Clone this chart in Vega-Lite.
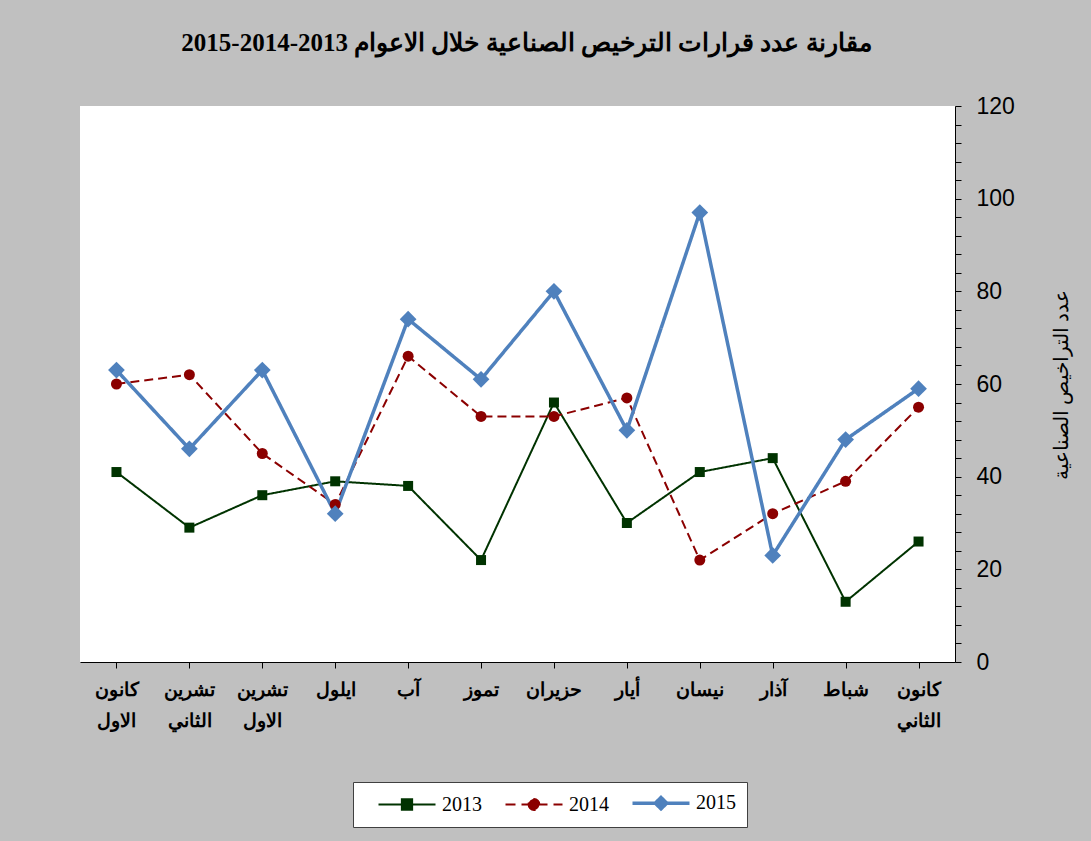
{
  "$schema": "https://vega.github.io/schema/vega-lite/v6.json",
  "width": 875,
  "height": 556,
  "autosize": {"type": "none"},
  "padding": {"left": 80, "top": 106, "right": 136, "bottom": 179},
  "background": "#c0c0c0",
  "config": {"view": {"fill": "white", "stroke": null}},
  "title": {
    "text": "مقارنة عدد قرارات الترخيص الصناعية خلال الاعوام 2013-2014-2015",
    "font": "Liberation Serif",
    "fontSize": 25,
    "fontWeight": "bold",
    "color": "black",
    "anchor": "middle",
    "frame": "group",
    "offset": 39,
    "dx": 9
  },
  "data": {
    "values": [
      {"month": "كانون الاول", "year": "2013", "value": 41},
      {"month": "تشرين الثاني", "year": "2013", "value": 29},
      {"month": "تشرين الاول", "year": "2013", "value": 36},
      {"month": "ايلول", "year": "2013", "value": 39},
      {"month": "آب", "year": "2013", "value": 38},
      {"month": "تموز", "year": "2013", "value": 22},
      {"month": "حزيران", "year": "2013", "value": 56},
      {"month": "أيار", "year": "2013", "value": 30},
      {"month": "نيسان", "year": "2013", "value": 41},
      {"month": "آذار", "year": "2013", "value": 44},
      {"month": "شباط", "year": "2013", "value": 13},
      {"month": "كانون الثاني", "year": "2013", "value": 26},
      {"month": "كانون الاول", "year": "2014", "value": 60},
      {"month": "تشرين الثاني", "year": "2014", "value": 62},
      {"month": "تشرين الاول", "year": "2014", "value": 45},
      {"month": "ايلول", "year": "2014", "value": 34},
      {"month": "آب", "year": "2014", "value": 66},
      {"month": "تموز", "year": "2014", "value": 53},
      {"month": "حزيران", "year": "2014", "value": 53},
      {"month": "أيار", "year": "2014", "value": 57},
      {"month": "نيسان", "year": "2014", "value": 22},
      {"month": "آذار", "year": "2014", "value": 32},
      {"month": "شباط", "year": "2014", "value": 39},
      {"month": "كانون الثاني", "year": "2014", "value": 55},
      {"month": "كانون الاول", "year": "2015", "value": 63},
      {"month": "تشرين الثاني", "year": "2015", "value": 46},
      {"month": "تشرين الاول", "year": "2015", "value": 63},
      {"month": "ايلول", "year": "2015", "value": 32},
      {"month": "آب", "year": "2015", "value": 74},
      {"month": "تموز", "year": "2015", "value": 61},
      {"month": "حزيران", "year": "2015", "value": 80},
      {"month": "أيار", "year": "2015", "value": 50},
      {"month": "نيسان", "year": "2015", "value": 97},
      {"month": "آذار", "year": "2015", "value": 23},
      {"month": "شباط", "year": "2015", "value": 48},
      {"month": "كانون الثاني", "year": "2015", "value": 59}
    ]
  },
  "encoding": {
    "x": {
      "field": "month",
      "type": "nominal",
      "sort": ["كانون الاول", "تشرين الثاني", "تشرين الاول", "ايلول", "آب", "تموز", "حزيران", "أيار", "نيسان", "آذار", "شباط", "كانون الثاني"],
      "scale": {"type": "point", "padding": 0.5},
      "axis": {
        "title": null,
        "labelAngle": 0,
        "labelExpr": "split(datum.label, ' ')",
        "labelFont": "Liberation Sans",
        "labelFontSize": 19,
        "labelFontWeight": "bold",
        "labelColor": "black",
        "labelPadding": 12,
        "labelLineHeight": 31,
        "tickColor": "black",
        "tickSize": 6,
        "domainColor": "black",
        "grid": false
      }
    },
    "y": {
      "field": "value",
      "type": "quantitative",
      "scale": {"domain": [0, 120], "nice": false},
      "axis": {
        "orient": "right",
        "values": [0, 4, 8, 12, 16, 20, 24, 28, 32, 36, 40, 44, 48, 52, 56, 60, 64, 68, 72, 76, 80, 84, 88, 92, 96, 100, 104, 108, 112, 116, 120],
        "labelExpr": "datum.value % 20 === 0 ? datum.label : ''",
        "labelFont": "Liberation Sans",
        "labelFontSize": 23,
        "labelColor": "black",
        "labelPadding": 15,
        "labelAlign": "left",
        "tickColor": "black",
        "tickSize": 6,
        "domainColor": "black",
        "grid": false,
        "title": "عدد التراخيص الصناعية",
        "titleFont": "Liberation Serif",
        "titleFontSize": 20,
        "titleFontWeight": "normal",
        "titleColor": "black",
        "titleAngle": 270,
        "titlePadding": 57
      }
    },
    "color": {
      "field": "year",
      "type": "nominal",
      "scale": {"domain": ["2013", "2014", "2015"], "range": ["#003300", "#8b0000", "#4f81bd"]},
      "legend": {
        "title": null,
        "orient": "none",
        "legendX": 273,
        "legendY": 676,
        "direction": "horizontal",
        "fillColor": "white",
        "strokeColor": "#404040",
        "padding": 11,
        "labelFont": "Liberation Serif",
        "labelFontSize": 20,
        "labelColor": "black",
        "labelOffset": 25,
        "columnPadding": 9,
        "symbolOffset": 33,
        "symbolSize": 3249,
        "symbolStrokeWidth": 2,
        "encode": {
          "symbols": {
            "update": {
              "shape": {"signal": "datum.value === '2013' ? 'M-1,0H1M-0.18,-0.18H0.18V0.18H-0.18Z' : datum.value === '2014' ? 'M-1,0H1M-0.19,0A0.19,0.19 0 1,0 0.19,0A0.19,0.19 0 1,0 -0.19,0Z' : 'M-1,0H1M-0.2,0L0,-0.2L0.2,0L0,0.2Z'"},
              "fill": {"signal": "datum.value === '2013' ? '#003300' : datum.value === '2014' ? '#8b0000' : '#4f81bd'"},
              "stroke": {"signal": "datum.value === '2013' ? '#003300' : datum.value === '2014' ? '#8b0000' : '#4f81bd'"},
              "strokeWidth": {"signal": "datum.value === '2015' ? 3.5 : 2"},
              "strokeDash": {"signal": "datum.value === '2014' ? [10, 6] : [1, 0]"},
              "size": {"value": 3249},
              "opacity": {"value": 1}
            }
          }
        }
      }
    }
  },
  "layer": [
    {
      "mark": {"type": "line"},
      "encoding": {
        "strokeDash": {
          "condition": {"test": "datum.year === '2014'", "value": [9, 5]},
          "value": [1, 0]
        },
        "strokeWidth": {
          "condition": {"test": "datum.year === '2015'", "value": 3.5},
          "value": 2
        }
      }
    },
    {
      "mark": {"type": "point", "filled": true, "opacity": 1},
      "encoding": {
        "shape": {
          "condition": [
            {"test": "datum.year === '2013'", "value": "square"},
            {"test": "datum.year === '2014'", "value": "circle"}
          ],
          "value": "diamond"
        },
        "size": {
          "condition": [
            {"test": "datum.year === '2013'", "value": 100},
            {"test": "datum.year === '2014'", "value": 121}
          ],
          "value": 280
        }
      }
    }
  ]
}
